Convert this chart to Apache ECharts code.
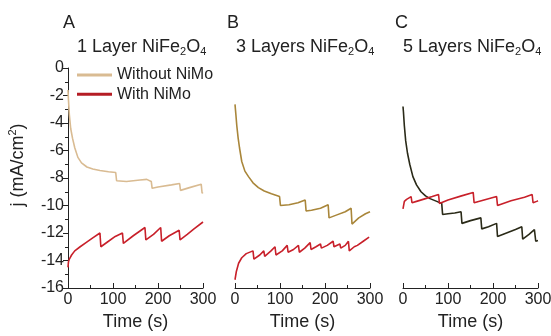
<!DOCTYPE html>
<html>
<head>
<meta charset="utf-8">
<script src="https://cdn.jsdelivr.net/npm/echarts@6/dist/echarts.min.js"></script>
<style>html,body{margin:0;padding:0;background:#fff}#c{width:551px;height:336px}</style>
</head>
<body>
<div id="c"></div>
<script>
// ---- data (time in s, j in mA/cm2) ----
const panelLetters = ['A', 'B', 'C'];
const panelLayers = ['1 Layer', '3 Layers', '5 Layers'];
const seriesNames = ['Without NiMo', 'With NiMo'];
const xTicks = [0, 100, 200, 300];

// Panel A
const tA_wo = [0, 1, 3, 6, 10, 15, 22, 30, 42, 55, 71, 90, 106, 108, 130, 160, 175, 185, 187, 200, 230, 248, 250, 270, 296, 298, 300];
const jA_wo = [-1.6, -2.3, -3.4, -4.4, -5.1, -5.8, -6.5, -6.9, -7.2, -7.35, -7.45, -7.55, -7.6, -8.2, -8.25, -8.15, -8.1, -8.25, -8.75, -8.65, -8.5, -8.4, -8.9, -8.7, -8.45, -9.1, -9.05];
const tA_w = [0, 1, 3, 8, 15, 27, 40, 55, 71, 73, 90, 105, 121, 123, 145, 171, 173, 190, 206, 208, 225, 247, 249, 265, 280, 300];
const jA_w = [-14.5, -14.1, -13.9, -13.6, -13.3, -13.0, -12.7, -12.35, -12.0, -13.0, -12.6, -12.25, -12.0, -12.75, -12.2, -11.6, -12.5, -12.1, -11.6, -12.6, -12.2, -11.8, -12.5, -12.1, -11.7, -11.2];

// Panel B
const tB_wo = [0, 2, 4, 7, 10, 15, 22, 30, 40, 52, 65, 81, 99, 101, 120, 140, 156, 158, 170, 190, 207, 209, 225, 245, 258, 260, 275, 290, 300];
const jB_wo = [-2.65, -3.4, -4.2, -5.1, -5.8, -6.8, -7.5, -7.9, -8.35, -8.7, -8.95, -9.15, -9.35, -10.0, -9.95, -9.8, -9.6, -10.4, -10.35, -10.2, -9.95, -10.9, -10.7, -10.45, -10.2, -11.35, -10.9, -10.6, -10.45];
const tB_w = [0, 3, 8, 15, 25, 40, 42, 55, 64, 66, 80, 89, 91, 105, 116, 118, 130, 141, 143, 155, 167, 169, 180, 190, 192, 205, 218, 220, 233, 235, 245, 252, 254, 265, 272, 285, 298];
const jB_w = [-15.4, -14.8, -14.2, -13.8, -13.5, -13.3, -13.9, -13.6, -13.3, -13.7, -13.3, -13.0, -13.6, -13.3, -12.9, -13.4, -13.2, -12.9, -13.4, -13.1, -12.7, -13.2, -13.0, -12.8, -13.1, -12.9, -12.6, -13.0, -12.8, -13.1, -12.9, -12.6, -13.3, -13.0, -12.9, -12.6, -12.3];

// Panel C
const tC_wo = [0, 1, 3, 6, 10, 15, 22, 30, 40, 50, 60, 75, 86, 88, 100, 115, 129, 131, 150, 173, 175, 190, 208, 210, 230, 250, 264, 266, 280, 292, 295, 300];
const jC_wo = [-2.8, -3.2, -4.2, -5.3, -6.2, -7.0, -7.9, -8.5, -9.0, -9.3, -9.5, -9.7, -9.85, -10.65, -10.6, -10.55, -10.45, -11.3, -11.1, -10.9, -11.7, -11.55, -11.3, -12.25, -12.0, -11.75, -11.55, -12.45, -12.1, -11.75, -12.6, -12.55];
const tC_w = [0, 3, 8, 18, 20, 30, 50, 65, 79, 81, 100, 130, 156, 158, 180, 208, 210, 240, 270, 287, 289, 297, 300];
const jC_w = [-10.25, -9.7, -9.55, -9.35, -9.8, -9.7, -9.5, -9.35, -9.2, -9.85, -9.6, -9.3, -9.05, -9.8, -9.6, -9.35, -10.0, -9.65, -9.4, -9.2, -9.8, -9.7, -9.65];

const colWithout = ['#d9bb92', '#a9863a', '#2a2a18'];
const colWith = '#c8202a';

const zip = (t, j) => t.map((v, i) => [v, j[i]]);
const panels = [
  [zip(tA_wo, jA_wo), zip(tA_w, jA_w)],
  [zip(tB_wo, jB_wo), zip(tB_w, jB_w)],
  [zip(tC_wo, jC_wo), zip(tC_w, jC_w)]
];

const FONT = 'Liberation Sans, Arial, sans-serif';
const lefts = [68, 235, 403];
const letterOff = [-5, -8, -8];
const titleOff = [9, 1, 0];
const chart = echarts.init(document.getElementById('c'), null, {renderer: 'canvas'});

const grids = lefts.map(l => ({left: l, top: 68, width: 135, height: 220, outerBoundsMode: 'none', containLabel: false}));
const xAxes = lefts.map((l, i) => ({
  type: 'value', gridIndex: i, min: 0, max: 300, interval: 100,
  name: 'Time (s)', nameLocation: 'middle', nameGap: 24,
  nameTextStyle: {fontFamily: FONT, fontSize: 18, color: '#222'},
  axisLine: {show: true, onZero: false, lineStyle: {color: '#222', width: 1}},
  axisTick: {show: true, inside: true, length: 5, lineStyle: {color: '#222'}},
  minorTick: {show: true, splitNumber: 2, length: 3, lineStyle: {color: '#222'}},
  axisLabel: {fontFamily: FONT, fontSize: 16, color: '#222', margin: 4, showMinLabel: true, showMaxLabel: true, hideOverlap: false},
  splitLine: {show: false}
}));
const yAxes = lefts.map((l, i) => ({
  type: 'value', gridIndex: i, min: -16, max: 0, interval: 2,
  show: i === 0,
  axisLine: {show: true, onZero: false, lineStyle: {color: '#222', width: 1}},
  axisTick: {show: true, inside: false, length: 5, lineStyle: {color: '#222'}},
  minorTick: {show: true, splitNumber: 2, length: 3, lineStyle: {color: '#222'}},
  axisLabel: {fontFamily: FONT, fontSize: 16, color: '#222', margin: 4},
  splitLine: {show: false}
}));

const series = [];
panels.forEach((p, i) => {
  series.push({
    name: i === 0 ? seriesNames[0] : seriesNames[0] + ' ' + panelLetters[i],
    type: 'line', xAxisIndex: i, yAxisIndex: i, data: p[0], symbol: 'none', smooth: false,
    lineStyle: {color: colWithout[i], width: 1.6}, itemStyle: {color: colWithout[i]}, z: 2
  });
  series.push({
    name: i === 0 ? seriesNames[1] : seriesNames[1] + ' ' + panelLetters[i],
    type: 'line', xAxisIndex: i, yAxisIndex: i, data: p[1], symbol: 'none', smooth: false,
    lineStyle: {color: colWith, width: 1.6}, itemStyle: {color: colWith}, z: 3
  });
});

const titles = [];
lefts.forEach((l, i) => {
  titles.push({text: panelLetters[i], left: l + letterOff[i], top: 14, padding: 0,
    textStyle: {fontFamily: FONT, fontSize: 18, fontWeight: 'normal', color: '#222'}});
  titles.push({text: '{n|' + panelLayers[i] + ' NiFe}{s|2}{n|O}{s|4}', left: l + titleOff[i], top: 36, padding: 0,
    textStyle: {fontFamily: FONT, fontWeight: 'normal', color: '#222',
      rich: {n: {fontFamily: FONT, fontSize: 18, color: '#222', lineHeight: 22},
             s: {fontFamily: FONT, fontSize: 11, color: '#222', lineHeight: 12, padding: [10, 0, 0, 0]}}}});
});

chart.setOption({
  animation: false,
  backgroundColor: '#fff',
  title: titles,
  grid: grids,
  xAxis: xAxes,
  yAxis: yAxes,
  legend: {
    orient: 'vertical', left: 77, top: 67, padding: 0, itemWidth: 35, itemHeight: 3, itemGap: 3.3,
    textStyle: {fontFamily: FONT, fontSize: 16, color: '#222', lineHeight: 16},
    data: [
      {name: seriesNames[0], icon: 'rect', itemStyle: {color: colWithout[0]}},
      {name: seriesNames[1], icon: 'rect', itemStyle: {color: '#b51c24'}}
    ]
  },
  graphic: [{
    type: 'text', x: 18, y: 165, rotation: Math.PI / 2,
    style: {text: 'j (mA/cm{sup|2})', font: '18px ' + FONT, fill: '#222', align: 'center', verticalAlign: 'middle',
      rich: {sup: {fontSize: 11, fontFamily: FONT, fill: '#222', padding: [0, 0, 10, 0], lineHeight: 12}}}
  }],
  series: series
});
</script>
</body>
</html>
